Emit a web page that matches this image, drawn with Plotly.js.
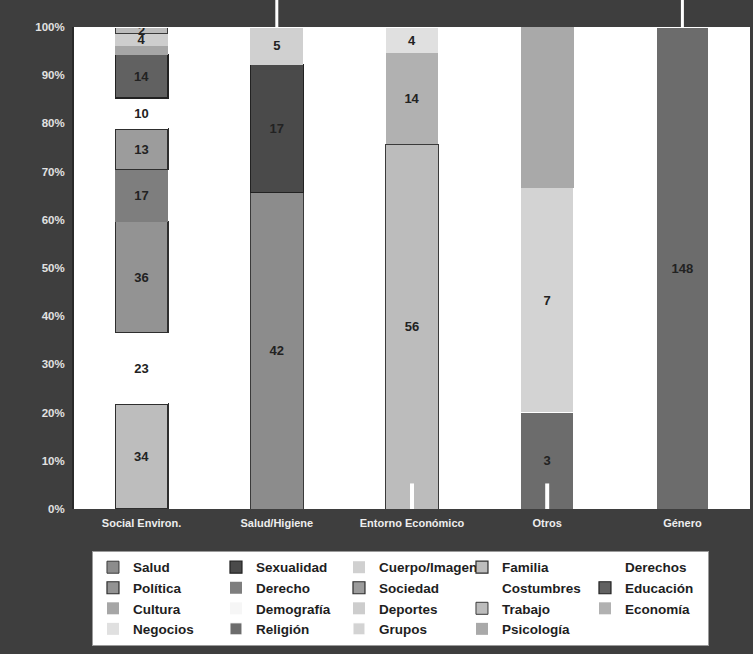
<!DOCTYPE html>
<html>
<head>
<meta charset="utf-8">
<script src="https://cdn.plot.ly/plotly-3.0.1.min.js"></script>
<style>html,body{margin:0;padding:0;background:#3e3e3e;}#chart{width:753px;height:654px;}</style>
</head>
<body>
<div id="chart"></div>
<script>
// Categories on the x axis
const categories = ['Social Environ.', 'Salud/Higiene', 'Entorno Económico', 'Otros', 'Género'];

// Series (legend order = stacking order), values per category
const seriesNames = ['Salud','Sexualidad','Cuerpo/Imagen','Familia','Derechos',
  'Política','Derecho','Sociedad','Costumbres','Educación',
  'Cultura','Demografía','Deportes','Trabajo','Economía',
  'Negocios','Religión','Grupos','Psicología'];

const salud        = [0, 42, 0, 0, 0];
const sexualidad   = [0, 17, 0, 0, 0];
const cuerpoImagen = [0, 5, 0, 0, 0];
const familia      = [34, 0, 0, 0, 0];
const derechos     = [23, 0, 0, 0, 0];
const politica     = [36, 0, 0, 0, 0];
const derecho      = [17, 0, 0, 0, 0];
const sociedad     = [13, 0, 0, 0, 0];
const costumbres   = [10, 0, 0, 0, 0];
const educacion    = [14, 0, 0, 0, 0];
const cultura      = [3, 0, 0, 0, 0];
const demografia   = [0, 0, 0, 0, 0];
const deportes     = [4, 0, 0, 0, 0];
const trabajo      = [2, 0, 56, 0, 0];
const economia     = [0, 0, 14, 0, 0];
const negocios     = [0, 0, 4, 0, 0];
const religion     = [0, 0, 0, 3, 148];
const grupos       = [0, 0, 0, 7, 0];
const psicologia   = [0, 0, 0, 5, 0];

const seriesValues = [salud, sexualidad, cuerpoImagen, familia, derechos,
  politica, derecho, sociedad, costumbres, educacion,
  cultura, demografia, deportes, trabajo, economia,
  negocios, religion, grupos, psicologia];

// segments drawn without a printed label in the original
const unlabeled = [['Cultura', 'Social Environ.'], ['Psicología', 'Otros']];

// styles: fill colour, outline colour, outline width
const fills = ['#8c8c8c','#4a4a4a','#d0d0d0','#bdbdbd','#ffffff',
  '#939393','#7e7e7e','#9c9c9c','#ffffff','#616161',
  '#a6a6a6','#f6f6f6','#cdcdcd','#bcbcbc','#b1b1b1',
  '#e0e0e0','#6c6c6c','#d3d3d3','#a9a9a9'];
const lines = ['#3a3a3a','#222222','#d0d0d0','#2e2e2e','#ffffff',
  '#2e2e2e','#7e7e7e','#2e2e2e','#ffffff','#222222',
  '#a6a6a6','#f6f6f6','#cdcdcd','#3a3a3a','#b1b1b1',
  '#e0e0e0','#ffffff','#ffffff','#a9a9a9'];
const lineW = [1,1.2,0,1.2,0, 1.2,0,1.2,0,1.2, 0,0,0,1,0, 0,1,1,0];

const FONT = 'Liberation Sans, Arial, Helvetica, sans-serif';

const traces = seriesNames.map((name, i) => {
  const vals = seriesValues[i];
  const text = vals.map((v, j) => {
    if (!v) return '';
    if (unlabeled.some(u => u[0] === name && u[1] === categories[j])) return '';
    return String(v);
  });
  return {
    type: 'bar',
    name: name,
    x: categories,
    y: vals,
    text: text,
    textposition: 'inside',
    insidetextanchor: 'middle',
    textangle: 0,
    textfont: {family: FONT, size: 13, color: '#222222', weight: 'bold'},
    marker: {color: fills[i], line: {color: lines[i], width: lineW[i]}},
    hoverinfo: 'name+y'
  };
});

const layout = {
  width: 753, height: 654,
  barmode: 'stack',
  barnorm: 'percent',
  bargap: 0.61,
  paper_bgcolor: '#3e3e3e',
  plot_bgcolor: '#ffffff',
  margin: {l: 74, r: 3, t: 27, b: 145, pad: 0},
  uniformtext: {mode: 'show', minsize: 13},
  font: {family: FONT, color: '#ececec', size: 12, weight: 'bold'},
  xaxis: {
    type: 'category',
    showgrid: false, zeroline: false, showline: false,
    ticks: '', ticklabelstandoff: 6,
    tickfont: {family: FONT, size: 11, color: '#ededed', weight: 'bold'}
  },
  yaxis: {
    range: [0, 100], dtick: 10, ticksuffix: '%',
    showgrid: false, zeroline: false,
    showline: true, linecolor: '#2a2a2a', linewidth: 2,
    ticks: '', ticklabelstandoff: 5,
    tickfont: {family: FONT, size: 11.5, color: '#e2e2e2', weight: 'bold'}
  },
  showlegend: true,
  legend: {
    orientation: 'h',
    x: 0.0266, xanchor: 'left',
    y: -0.087, yanchor: 'top',
    bgcolor: '#ffffff', bordercolor: '#9a9a9a', borderwidth: 1,
    font: {family: FONT, size: 13.5, color: '#1e1e1e', weight: 'bold'},
    entrywidth: 78, entrywidthmode: 'pixels',
    itemwidth: 30,
    traceorder: 'normal',
    itemclick: false
  },
  shapes: [
    {type: 'line', xref: 'x', yref: 'paper', x0: 1, x1: 1, y0: 1, y1: 1.06, line: {color: '#ffffff', width: 3}},
    {type: 'line', xref: 'x', yref: 'paper', x0: 4, x1: 4, y0: 1, y1: 1.06, line: {color: '#ffffff', width: 3}},
    {type: 'line', xref: 'x', yref: 'y', x0: 2, x1: 2, y0: 0, y1: 5.3, line: {color: '#ffffff', width: 4}},
    {type: 'line', xref: 'x', yref: 'y', x0: 3, x1: 3, y0: 0, y1: 5.3, line: {color: '#ffffff', width: 4}}
  ]
};

Plotly.newPlot('chart', traces, layout, {displayModeBar: false, staticPlot: true});
</script>
</body>
</html>
